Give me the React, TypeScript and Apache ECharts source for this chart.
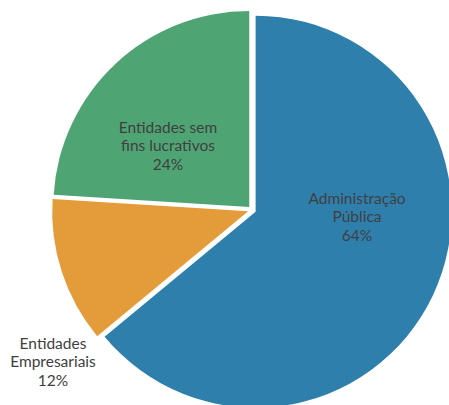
import React, { useEffect, useRef } from "react";
import * as echarts from "echarts";

const categories = [
  "Administração\nPública",
  "Entidades\nEmpresariais",
  "Entidades sem\nfins lucrativos",
];
const values = [64, 12, 24];
const colors = ["#2F7FAD", "#E49C3A", "#4FA474"];
// label anchor points (px) for each slice, in the same order
const labelPos: [number, number][] = [
  [357, 216],
  [53, 361],
  [168, 145],
];

export default function App() {
  const ref = useRef<HTMLDivElement>(null);
  useEffect(() => {
    document.body.style.margin = "0";
    if (!ref.current) return;
    const chart = echarts.init(ref.current, null, { renderer: "svg" });
    chart.setOption({
      animation: false,
      backgroundColor: "#ffffff",
      series: [
        {
          type: "pie",
          center: [252, 210],
          radius: 196,
          startAngle: 90,
          clockwise: true,
          selectedMode: "multiple",
          selectedOffset: 4,
          emphasis: { disabled: true },
          select: { itemStyle: { borderWidth: 0 } },
          itemStyle: { borderWidth: 0 },
          labelLine: { show: false },
          label: { show: false },
          data: categories.map((name, i) => ({
            name,
            value: values[i],
            selected: true,
            itemStyle: { color: colors[i] },
          })),
        },
      ],
      graphic: categories.map((name, i) => ({
        type: "text",
        x: labelPos[i][0],
        y: labelPos[i][1],
        z: 100,
        zlevel: 0,
        silent: true,
        style: {
          text: `${name}\n${values[i]}%`,
          textAlign: "center",
          textVerticalAlign: "middle",
          fill: "#404040",
          fontFamily: "Lato",
          fontSize: 15.5,
          lineHeight: 18.5,
        },
      })),
    });
    return () => chart.dispose();
  }, []);
  return <div ref={ref} style={{ width: 449, height: 405 }} />;
}
